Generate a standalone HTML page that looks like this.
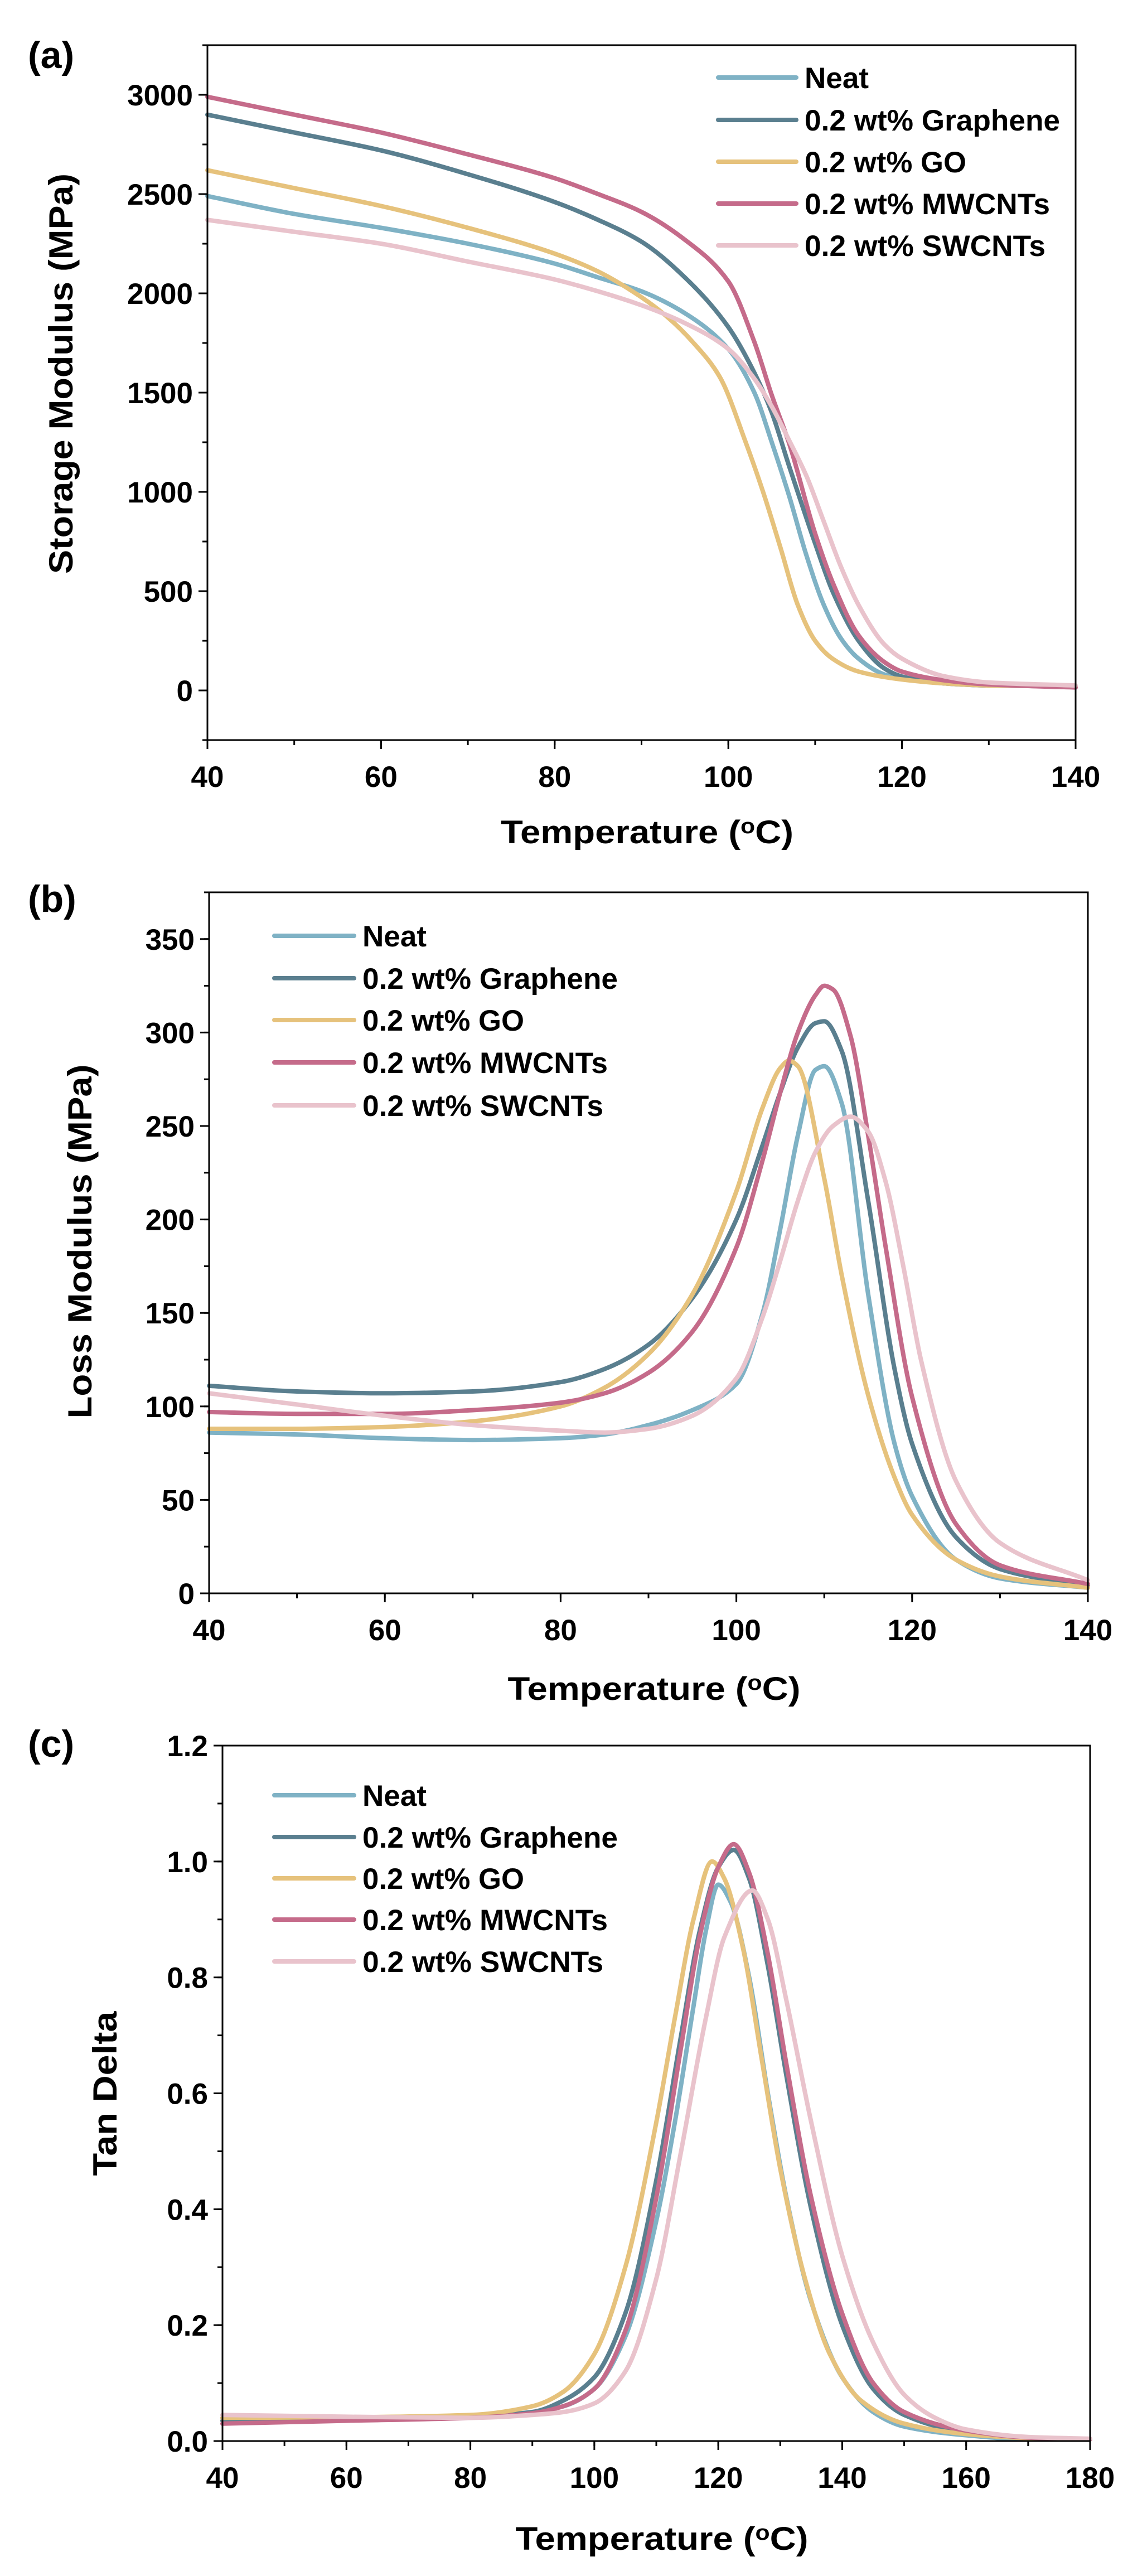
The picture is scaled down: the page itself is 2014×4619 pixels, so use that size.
<!DOCTYPE html>
<html><head><meta charset="utf-8"><style>
html,body{margin:0;padding:0;background:#fff;}
svg{display:block;font-family:"Liberation Sans",Arial,sans-serif;font-weight:bold;}
</style></head><body>
<svg id="fig" width="2014" height="4619" viewBox="0 0 2014 4619" xmlns="http://www.w3.org/2000/svg"></svg>
<script>
// ---------- data ----------
const seriesNames = ["Neat","0.2 wt% Graphene","0.2 wt% GO","0.2 wt% MWCNTs","0.2 wt% SWCNTs"];
const seriesColors = ["#7fb2c5","#5a7f8f","#e6c27c","#c56b8a","#e9c3cc"];

// Panel (a) Storage modulus
const aNeatT = [40,50,60,70,80,85,90,95,100,103,105,107,109,111,113,115,118,120,125,130,140];
const aNeatV = [2490,2400,2330,2250,2150,2080,2010,1900,1720,1500,1250,980,680,430,260,160,80,60,35,25,20];
const aGrT = [40,50,60,70,80,85,90,95,100,103,105,107,110,112,115,118,120,125,130,140];
const aGrV = [2900,2810,2720,2600,2460,2370,2260,2080,1830,1600,1400,1130,740,500,250,110,70,35,25,20];
const aGOT = [40,50,60,70,80,85,90,93,96,99,102,104,106,108,110,112,115,120,125,130,140];
const aGOV = [2620,2530,2440,2330,2200,2110,1980,1880,1750,1580,1250,1000,720,430,250,160,95,55,35,25,20];
const aMWT = [40,50,60,70,80,85,90,95,100,103,105,107,110,112,115,118,120,125,130,140];
const aMWV = [2990,2900,2810,2700,2580,2500,2410,2270,2060,1755,1487,1245,790,546,277,142,95,50,30,15];
const aSWT = [40,50,60,70,80,85,90,95,100,103,105,107,109,111,113,115,118,120,125,130,140];
const aSWV = [2370,2310,2250,2160,2070,2010,1940,1850,1720,1570,1430,1260,1080,850,620,430,230,160,70,40,25];
const aYTicks = [0,500,1000,1500,2000,2500,3000];
const aXTicks = [40,60,80,100,120,140];

// Panel (b) Loss modulus
const bNeatT = [40,50,60,70,80,85,90,95,100,103,105,107,109,110,112,115,118,120,125,130,140];
const bNeatV = [86,85,83,82,83,85,90,98,112,150,195,245,280,282,262,160,80,52,18,8,3];
const bGrT = [40,50,60,70,80,85,90,95,100,103,105,107,109,110,112,115,118,120,125,130,140];
const bGrV = [111,108,107,108,113,120,133,158,200,240,268,292,305,306,290,210,120,80,30,13,4];
const bGOT = [40,50,60,70,80,85,90,95,100,103,105,106,107,110,112,115,118,120,125,130,140];
const bGOV = [88,88,89,92,100,110,128,160,215,260,281,285,282,222,170,106,62,42,18,9,3];
const bMWT = [40,50,60,70,80,85,90,95,100,103,105,107,109,110,111,113,115,117,120,125,130,140];
const bMWV = [97,96,96,98,102,107,118,140,185,232,268,300,320,325,323,298,245,185,105,37,15,5];
const bSWT = [40,50,60,70,80,85,90,95,100,103,105,107,109,111,113,115,117,119,121,125,130,140];
const bSWV = [107,101,95,90,87,86,88,95,115,148,178,210,236,250,255,247,220,175,125,60,27,7];
const bYTicks = [0,50,100,150,200,250,300,350];
const bXTicks = [40,60,80,100,120,140];

// Panel (c) Tan delta
const cNeatT = [40,60,80,90,95,100,105,110,113,116,118,120,122,125,128,131,135,140,145,150,160,170,180];
const cNeatV = [0.04,0.04,0.042,0.05,0.06,0.09,0.18,0.38,0.55,0.75,0.88,0.96,0.93,0.8,0.6,0.42,0.24,0.11,0.05,0.025,0.01,0.003,0.003];
const cGrT = [40,60,80,90,95,100,105,110,114,117,120,122.5,125,128,131,135,140,145,150,160,170,180];
const cGrV = [0.035,0.038,0.042,0.05,0.07,0.11,0.22,0.45,0.7,0.88,0.99,1.02,0.97,0.82,0.63,0.4,0.2,0.09,0.045,0.015,0.005,0.003];
const cGOT = [40,60,80,90,95,100,105,110,113,116,119,121,124,127,130,134,138,143,150,160,170,180];
const cGOV = [0.04,0.041,0.045,0.06,0.085,0.15,0.3,0.55,0.73,0.9,1.0,0.97,0.85,0.66,0.47,0.28,0.15,0.07,0.03,0.012,0.005,0.003];
const cMWT = [40,60,80,90,95,100,105,110,114,117,120,122.5,125,128,131,135,140,145,150,160,170,180];
const cMWV = [0.03,0.035,0.04,0.048,0.06,0.09,0.19,0.42,0.68,0.87,0.99,1.03,0.98,0.84,0.65,0.42,0.22,0.1,0.05,0.018,0.006,0.003];
const cSWT = [40,60,80,90,95,100,105,110,114,118,121,125.5,128,131,135,140,145,150,155,160,170,180];
const cSWV = [0.045,0.042,0.04,0.045,0.05,0.065,0.12,0.28,0.5,0.73,0.87,0.95,0.9,0.76,0.55,0.32,0.17,0.08,0.04,0.02,0.007,0.004];
const cYTicks = [0,0.2,0.4,0.6,0.8,1.0,1.2];
const cXTicks = [40,60,80,100,120,140,160,180];

// ---------- drawing ----------
const NS = "http://www.w3.org/2000/svg";
const svg = document.getElementById("fig");
function mk(tag, attrs, parent){
  const e = document.createElementNS(NS, tag);
  for (const k in attrs) e.setAttribute(k, attrs[k]);
  (parent||svg).appendChild(e);
  return e;
}
// monotone cubic (Fritsch-Carlson) path in data space, mapped by linear scales
function monoPath(X, Y, xs, ys){
  const n = X.length, d = [], m = new Array(n);
  for (let i=0;i<n-1;i++) d.push((Y[i+1]-Y[i])/(X[i+1]-X[i]));
  m[0]=d[0]; m[n-1]=d[n-2];
  for (let i=1;i<n-1;i++){
    if (d[i-1]*d[i] <= 0) m[i]=0;
    else {
      const h0=X[i]-X[i-1], h1=X[i+1]-X[i];
      const w1=2*h1+h0, w2=h1+2*h0;
      m[i]=(w1+w2)/(w1/d[i-1]+w2/d[i]);
    }
  }
  let p = "M"+xs(X[0]).toFixed(1)+","+ys(Y[0]).toFixed(1);
  for (let i=0;i<n-1;i++){
    const h=X[i+1]-X[i];
    const c1x=X[i]+h/3, c1y=Y[i]+m[i]*h/3;
    const c2x=X[i+1]-h/3, c2y=Y[i+1]-m[i+1]*h/3;
    p += " C"+xs(c1x).toFixed(1)+","+ys(c1y).toFixed(1)+" "+xs(c2x).toFixed(1)+","+ys(c2y).toFixed(1)+" "+xs(X[i+1]).toFixed(1)+","+ys(Y[i+1]).toFixed(1);
  }
  return p;
}
function panel(p){
  const g = mk("g", {});
  
  
  const xs = v => p.L + (v - p.xmin)/(p.xmax - p.xmin)*(p.R - p.L);
  const ys = v => p.B - (v - p.ymin)/(p.ymax - p.ymin)*(p.B - p.T);
  p.series.forEach((s,i)=>{
    const path = mk("path", {d: monoPath(s[0], s[1], xs, ys), fill:"none", stroke: seriesColors[i], "stroke-width":8, "stroke-linejoin":"round", "stroke-linecap":"round"}, g);
    
    
  });
  const fr = mk("rect", {x:p.L, y:p.T, width:p.R-p.L, height:p.B-p.T, fill:"none", stroke:"#000", "stroke-width":3}, g);
  
  
  const ystep = p.yTicks[1]-p.yTicks[0];
  for (let k=0;k<p.yTicks.length;k++){
    const v = p.yTicks[k], y = ys(v);
    mk("line",{x1:p.L-16,x2:p.L,y1:y,y2:y,stroke:"#000","stroke-width":3},g);
    const t = mk("text",{x:p.L-26,y:y+19,"text-anchor":"end","font-size":53},g);
    t.textContent = p.yFmt(v);
    
    
  }
  for (let v=p.ymin; v<=p.ymax+1e-9; v+=ystep/2){
    mk("line",{x1:p.L-9,x2:p.L,y1:ys(v),y2:ys(v),stroke:"#000","stroke-width":3},g);
  }
  const xstep = p.xTicks[1]-p.xTicks[0];
  for (let k=0;k<p.xTicks.length;k++){
    const v = p.xTicks[k], x = xs(v);
    mk("line",{x1:x,x2:x,y1:p.B,y2:p.B+16,stroke:"#000","stroke-width":3},g);
    const t = mk("text",{x:x,y:p.B+84,"text-anchor":"middle","font-size":53},g);
    t.textContent = v;
    
    
  }
  for (let v=p.xmin; v<=p.xmax+1e-9; v+=xstep/2){
    mk("line",{x1:xs(v),x2:xs(v),y1:p.B,y2:p.B+9,stroke:"#000","stroke-width":3},g);
  }
  const xt = mk("text",{x:(p.L+p.R)/2+10,y:p.xTitleY,"text-anchor":"middle","font-size":58,textLength:525,lengthAdjust:"spacingAndGlyphs"},g);
  xt.innerHTML = 'Temperature (<tspan dy="-18" font-size="38">o</tspan><tspan dy="18">C)</tspan>';
  
  
  const yt = mk("text",{x:0,y:0,"text-anchor":"middle","font-size":60,transform:"translate("+p.yTitleX+","+p.yTitleY+") rotate(-90)",textLength:p.yTitleLen,lengthAdjust:"spacingAndGlyphs"},g);
  yt.textContent = p.yTitle;
  
  
  const pl = mk("text",{x:50,y:p.letterY,"font-size":68},g);
  pl.textContent = p.letter;
  
  
  const lens = p.legendLens;
  seriesNames.forEach((n,i)=>{
    const y = p.legY[i];
    const ln = mk("line",{x1:p.legX1,x2:p.legX2,y1:y,y2:y,stroke:seriesColors[i],"stroke-width":8,"stroke-linecap":"round"},g);
    
    
    const t = mk("text",{x:p.legX2+15,y:y+19,"font-size":53,textLength:lens[i],lengthAdjust:"spacingAndGlyphs"},g);
    t.textContent = n;
    
    
  });
}
const lens = [115,458,290,440,432];
panel({name:"storage-modulus-chart", L:372,R:1929,T:81,B:1327,xmin:40,xmax:140,ymin:-250,ymax:3250,
  yTicks:aYTicks,xTicks:aXTicks,yFmt:v=>String(v),
  series:[[aNeatT,aNeatV],[aGrT,aGrV],[aGOT,aGOV],[aMWT,aMWV],[aSWT,aSWV]],
  xTitleY:1512,yTitle:"Storage Modulus (MPa)",yTitleX:130,yTitleY:670,yTitleLen:718,letter:"(a)",letterY:122,
  legX1:1288,legX2:1428,legY:[139,215,290,365,440],legendLens:lens});
panel({name:"loss-modulus-chart", L:375,R:1951,T:1600,B:2857,xmin:40,xmax:140,ymin:0,ymax:375,
  yTicks:bYTicks,xTicks:bXTicks,yFmt:v=>String(v),
  series:[[bNeatT,bNeatV],[bGrT,bGrV],[bGOT,bGOV],[bMWT,bMWV],[bSWT,bSWV]],
  xTitleY:3048,yTitle:"Loss Modulus (MPa)",yTitleX:164,yTitleY:2226,yTitleLen:635,letter:"(b)",letterY:1635,
  legX1:492,legX2:635,legY:[1678,1754,1829,1905,1982],legendLens:lens});
panel({name:"tan-delta-chart", L:399,R:1955,T:3130,B:4377,xmin:40,xmax:180,ymin:0,ymax:1.2,
  yTicks:cYTicks,xTicks:cXTicks,yFmt:v=>v.toFixed(1),
  series:[[cNeatT,cNeatV],[cGrT,cGrV],[cGOT,cGOV],[cMWT,cMWV],[cSWT,cSWV]],
  xTitleY:4572,yTitle:"Tan Delta",yTitleX:209,yTitleY:3754,yTitleLen:295,letter:"(c)",letterY:3150,
  legX1:492,legX2:635,legY:[3219,3294,3368,3442,3517],legendLens:lens});
</script>
</body></html>
